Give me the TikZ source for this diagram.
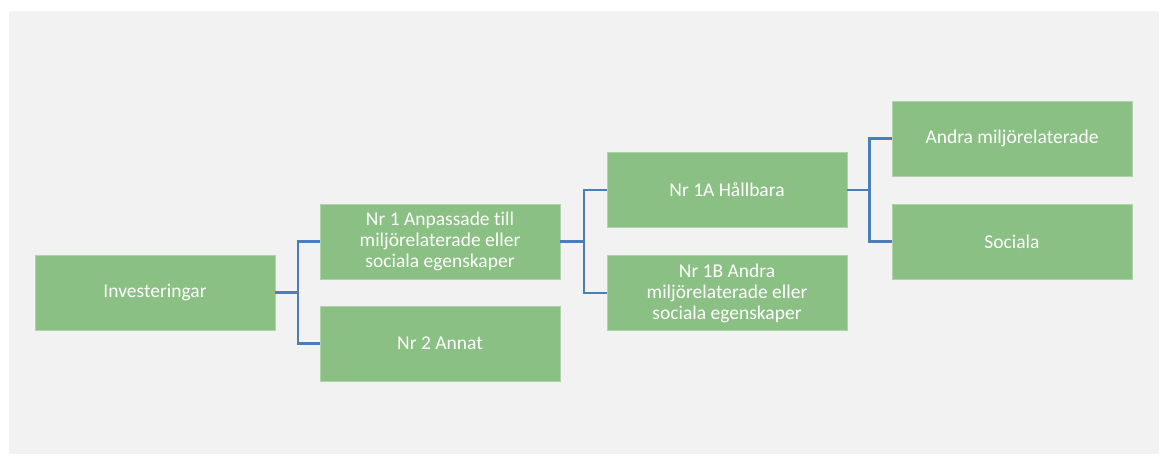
\documentclass[tikz,border=0pt]{standalone}
\usepackage{fontspec}
\setmainfont[Ligatures=NoCommon]{Carlito}
\usepackage{xcolor}
\definecolor{ivback}{RGB}{242,242,242}
\definecolor{ivgreen}{RGB}{138,192,131}
\definecolor{ivedge}{RGB}{172,212,166}
\definecolor{ivblue}{RGB}{74,126,187}
\usetikzlibrary{positioning}

\begin{document}
\begin{tikzpicture}[x=1pt, y=-1pt,
  ivbox/.style={draw=ivedge, line width=0.8pt, fill=ivgreen, minimum width=240pt, minimum height=75pt, inner sep=0pt, font=\fontsize{19.5}{21}\selectfont, align=center, text=white},
  ivlink/.style={draw=ivblue, line width=2.2pt}]
  \useasboundingbox (0,0) rectangle (1161,455);
  % Background
  \fill[ivback] (9,11) rectangle (1159,454);

  % Root node
  \node[ivbox] (inv) at (155,292.5) {Investeringar};

  % Level 1
  \node[ivbox] (nr1) at (440,241.5) {Nr 1 Anpassade till\\miljörelaterade eller\\sociala egenskaper};
  \node[ivbox] (nr2) at (440,343.5) {Nr 2 Annat};

  % Level 2
  \node[ivbox] (nr1a) at (727,190) {Nr 1A Hållbara};
  \node[ivbox] (nr1b) at (727,293) {Nr 1B Andra\\miljörelaterade eller\\sociala egenskaper};

  % Level 3
  \node[ivbox] (andra) at (1012,138.5) {Andra miljörelaterade};
  \node[ivbox] (soc) at (1012,241.5) {Sociala};

  % Connectors
  \draw[ivlink] (inv.east) -- ++(22.5,0) |- (nr1.west);
  \draw[ivlink] (inv.east) -- ++(22.5,0) |- (nr2.west);
  \draw[ivlink] (nr1.east) -- ++(23.5,0) |- (nr1a.west);
  \draw[ivlink] (nr1.east) -- ++(23.5,0) |- (nr1b.west);
  \draw[ivlink] (nr1a.east) -- ++(22,0) |- (andra.west);
  \draw[ivlink] (nr1a.east) -- ++(22,0) |- (soc.west);
\end{tikzpicture}
\end{document}
